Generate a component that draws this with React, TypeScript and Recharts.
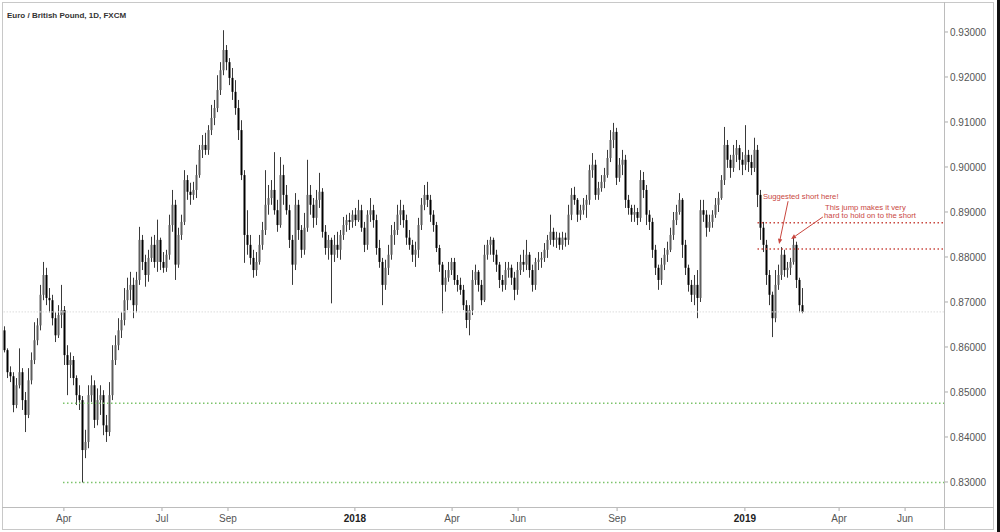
import React from 'react';
import { ComposedChart, Bar, XAxis, YAxis, ReferenceLine, ReferenceDot } from 'recharts';

// EUR/GBP candles (each candle ~2 sessions), values in pips: [open, high, low, close]
const ohlcPips: [number, number, number, number][] = [
  [8637,8646,8588,8593],[8593,8597,8531,8544],[8544,8557,8522,8535],[8535,8544,8455,8471],
  [8471,8531,8464,8515],[8515,8597,8508,8544],[8544,8553,8460,8482],[8482,8500,8411,8449],
  [8449,8553,8442,8526],[8526,8588,8517,8571],[8571,8655,8562,8615],[8615,8664,8604,8648],
  [8648,8738,8637,8716],[8716,8789,8704,8760],[8760,8776,8693,8709],[8709,8731,8677,8704],
  [8704,8716,8648,8664],[8664,8677,8611,8626],[8626,8693,8620,8671],[8671,8738,8642,8682],
  [8682,8691,8560,8582],[8582,8604,8493,8560],[8560,8588,8531,8571],[8571,8580,8515,8531],
  [8531,8537,8471,8493],[8493,8515,8460,8482],[8482,8491,8299,8371],[8371,8416,8353,8389],
  [8389,8515,8375,8493],[8493,8537,8478,8515],[8515,8526,8420,8438],[8438,8508,8426,8482],
  [8482,8515,8449,8493],[8493,8504,8404,8426],[8426,8449,8389,8411],[8411,8522,8402,8493],
  [8493,8604,8482,8571],[8571,8626,8560,8604],[8604,8664,8593,8637],[8637,8677,8620,8660],
  [8660,8731,8648,8704],[8704,8754,8682,8727],[8727,8767,8704,8738],[8738,8754,8664,8693],
  [8693,8767,8677,8749],[8749,8867,8738,8838],[8838,8849,8771,8789],[8789,8805,8734,8760],
  [8760,8816,8745,8798],[8798,8845,8789,8827],[8827,8849,8776,8789],[8789,8883,8767,8838],
  [8838,8843,8771,8789],[8789,8811,8765,8776],[8776,8816,8767,8805],[8805,8894,8794,8871],
  [8871,8949,8856,8916],[8916,8927,8749,8783],[8783,8865,8776,8849],[8849,8894,8838,8878],
  [8878,8993,8871,8971],[8971,8982,8927,8945],[8945,8965,8916,8938],[8938,8967,8927,8949],
  [8949,9005,8931,8982],[8982,9049,8976,9038],[9038,9071,9020,9049],[9049,9076,9027,9038],
  [9038,9093,9027,9082],[9082,9138,9071,9109],[9109,9149,9093,9131],[9131,9204,9122,9171],
  [9171,9233,9160,9215],[9215,9304,9204,9260],[9260,9271,9215,9233],[9233,9242,9182,9198],
  [9198,9220,9149,9167],[9167,9193,9116,9131],[9131,9149,9060,9082],[9082,9104,8971,8982],
  [8982,8993,8787,8849],[8849,8904,8805,8827],[8827,8849,8783,8798],[8798,8816,8754,8771],
  [8771,8811,8758,8789],[8789,8849,8783,8827],[8827,8878,8816,8860],[8860,8993,8849,8916],
  [8916,8960,8894,8931],[8931,8971,8916,8949],[8949,9033,8894,8904],[8904,8927,8856,8871],
  [8871,9022,8865,8982],[8982,9005,8916,8938],[8938,8960,8894,8904],[8904,8916,8820,8838],
  [8838,8849,8738,8783],[8783,8942,8771,8916],[8916,8927,8838,8860],[8860,8871,8798,8816],
  [8816,8898,8805,8865],[8865,9016,8856,8938],[8938,8960,8894,8916],[8916,8931,8865,8887],
  [8887,8949,8871,8927],[8927,8987,8909,8945],[8945,8953,8843,8856],[8856,8871,8805,8820],
  [8820,8849,8794,8838],[8838,8843,8697,8805],[8805,8849,8789,8827],[8827,8856,8798,8816],
  [8816,8860,8794,8849],[8849,8889,8838,8871],[8871,8894,8856,8882],[8882,8898,8860,8878],
  [8878,8904,8865,8894],[8894,8909,8869,8882],[8882,8927,8878,8904],[8904,8916,8856,8865],
  [8865,8878,8811,8827],[8827,8904,8816,8894],[8894,8931,8878,8904],[8904,8916,8865,8882],
  [8882,8894,8805,8820],[8820,8838,8776,8789],[8789,8798,8693,8738],[8738,8794,8727,8776],
  [8776,8827,8760,8805],[8805,8871,8794,8849],[8849,8878,8827,8860],[8860,8916,8849,8894],
  [8894,8927,8871,8904],[8904,8916,8865,8882],[8882,8894,8827,8843],[8843,8860,8816,8827],
  [8827,8838,8789,8805],[8805,8834,8778,8816],[8816,8887,8798,8871],[8871,8931,8860,8916],
  [8916,8960,8904,8938],[8938,8967,8911,8927],[8927,8938,8878,8894],[8894,8904,8856,8871],
  [8871,8878,8811,8820],[8820,8827,8767,8783],[8783,8789,8675,8738],[8738,8771,8723,8754],
  [8754,8789,8745,8771],[8771,8798,8760,8789],[8789,8798,8738,8749],[8749,8760,8723,8738],
  [8738,8754,8716,8727],[8727,8738,8682,8693],[8693,8704,8642,8660],[8660,8693,8626,8682],
  [8682,8771,8671,8749],[8749,8783,8738,8767],[8767,8771,8723,8738],[8738,8749,8693,8704],
  [8704,8827,8700,8805],[8805,8838,8794,8827],[8827,8845,8805,8838],[8838,8843,8789,8805],
  [8805,8816,8767,8783],[8783,8789,8731,8749],[8749,8760,8723,8738],[8738,8789,8727,8771],
  [8771,8789,8754,8776],[8776,8783,8738,8754],[8754,8767,8704,8727],[8727,8789,8716,8771],
  [8771,8805,8760,8789],[8789,8816,8767,8783],[8783,8838,8771,8805],[8805,8811,8754,8771],
  [8771,8783,8723,8738],[8738,8798,8727,8789],[8789,8811,8771,8794],[8794,8811,8776,8798],
  [8798,8831,8789,8816],[8816,8849,8798,8838],[8838,8894,8827,8856],[8856,8865,8823,8838],
  [8838,8856,8820,8843],[8843,8854,8816,8827],[8827,8856,8816,8843],[8843,8854,8823,8838],
  [8838,8916,8827,8894],[8894,8953,8882,8938],[8938,8956,8916,8927],[8927,8931,8878,8894],
  [8894,8916,8882,8904],[8904,8931,8894,8916],[8916,8938,8887,8927],[8927,9005,8916,8993],
  [8993,9031,8976,9005],[9005,9016,8927,8938],[8938,8967,8927,8953],[8953,8982,8945,8967],
  [8967,8998,8953,8982],[8982,9038,8976,9020],[9020,9082,9011,9060],[9060,9098,9042,9078],
  [9078,9087,8960,8976],[8976,9020,8967,9005],[9005,9038,8982,9016],[9016,9027,8909,8927],
  [8927,8938,8894,8909],[8909,8916,8878,8894],[8894,8916,8878,8900],[8900,8909,8871,8887],
  [8887,8993,8878,8971],[8971,8989,8931,8949],[8949,8960,8871,8894],[8894,8904,8860,8878],
  [8878,8887,8798,8816],[8816,8827,8760,8776],[8776,8783,8727,8749],[8749,8798,8738,8783],
  [8783,8820,8771,8805],[8805,8834,8789,8816],[8816,8865,8811,8849],[8849,8900,8838,8882],
  [8882,8916,8871,8900],[8900,8942,8894,8927],[8927,8931,8798,8827],[8827,8838,8760,8776],
  [8776,8783,8723,8738],[8738,8749,8700,8716],[8716,8760,8693,8738],[8738,8771,8664,8709],
  [8709,8927,8700,8904],[8904,8927,8878,8894],[8894,8904,8845,8865],[8865,8894,8856,8878],
  [8878,8904,8865,8894],[8894,8931,8887,8916],[8916,8945,8900,8931],[8931,8982,8927,8971],
  [8971,9089,8960,9049],[9049,9060,8998,9016],[9016,9027,8976,8998],[8998,9049,8989,9027],
  [9027,9060,9011,9042],[9042,9049,8993,9016],[9016,9033,8982,9005],[9005,9093,8993,9027],
  [9027,9038,8989,9011],[9011,9027,8982,8998],[8998,9065,8989,9038],[9038,9049,8911,8938],
  [8938,8949,8838,8865],[8865,8878,8811,8827],[8827,8838,8738,8760],[8760,8771,8693,8716],
  [8716,8723,8622,8664],[8664,8771,8655,8738],[8738,8783,8727,8760],[8760,8822,8749,8805],
  [8805,8816,8756,8771],[8771,8789,8754,8776],[8776,8798,8760,8789],[8789,8845,8783,8827],
  [8827,8834,8731,8749],[8749,8754,8677,8693],[8693,8731,8675,8678],
];

// X axis: candle index positions of the month/year labels
const tickIndex = [19.8, 52.5, 74.5, 116.8, 149.2, 171.2, 204.2, 246.8, 278.2, 300.2];
const tickLabels = ['Apr', 'Jul', 'Sep', '2018', 'Apr', 'Jun', 'Sep', '2019', 'Apr', 'Jun'];
const xDomain: [number, number] = [-0.5, 313.17];

// Y axis
const priceTicks = [0.83, 0.84, 0.85, 0.86, 0.87, 0.88, 0.89, 0.9, 0.91, 0.92, 0.93];
const yDomain: [number, number] = [0.824444, 0.936444];

// horizontal levels
const supportLevels = [0.8475, 0.8299];
const supportStart = 19.5;
const resistanceLevels = [0.8876, 0.8818];
const resistanceStart = 251;
const lastPrice = 0.8678;

const RED = '#c9473f';
const GREEN = '#7cc36b';
const FONT = "'Liberation Sans', Arial, sans-serif";

const data = ohlcPips.map(([o, h, l, c], i) => ({
  i,
  o: o / 10000,
  h: h / 10000,
  l: l / 10000,
  c: c / 10000,
  range: [l / 10000, h / 10000],
}));

const Candle = (props: any) => {
  const { x, y, width, height, payload } = props;
  if (!payload) return null;
  const { o, h, l, c } = payload;
  const top = Math.min(y, y + height);
  const ht = Math.abs(height);
  const span = h - l || 1e-9;
  const k = ht / span;
  const cx = Math.round(x + width / 2);
  const bTop = top + (h - Math.max(o, c)) * k;
  const bBot = top + (h - Math.min(o, c)) * k;
  const up = c >= o;
  return (
    <g>
      <line x1={cx + 0.5} x2={cx + 0.5} y1={top} y2={top + ht} stroke="#3a3a3a" strokeWidth={1} />
      <rect x={cx - 0.5} y={bTop} width={2} height={Math.max(1.5, bBot - bTop)} fill={up ? '#5e5e5e' : '#000'} />
    </g>
  );
};

const XTick = (props: any) => {
  const { x, y, payload } = props;
  const idx = tickIndex.indexOf(payload.value);
  const label = idx >= 0 ? tickLabels[idx] : '';
  const bold = /^\d{4}$/.test(label);
  return (
    <text x={x} y={y} dy="0.71em" textAnchor="middle" fontSize={10} fontFamily={FONT}
      fontWeight={bold ? 700 : 400} fill={bold ? '#222' : '#555'}>
      {label}
    </text>
  );
};

const Arrow = (p: any) => {
  const { x1, y1, x2, y2 } = p;
  const a = Math.atan2(y2 - y1, x2 - x1);
  const L = 5, W = 2.2;
  const bx = x2 - L * Math.cos(a), by = y2 - L * Math.sin(a);
  const pts = `${x2},${y2} ${bx + W * Math.sin(a)},${by - W * Math.cos(a)} ${bx - W * Math.sin(a)},${by + W * Math.cos(a)}`;
  return (
    <g>
      <line x1={x1} y1={y1} x2={bx} y2={by} stroke={RED} strokeWidth={1} />
      <polygon points={pts} fill={RED} />
    </g>
  );
};

const note = (text: string) => (p: any) => (
  <text x={p.cx} y={p.cy} fontSize={7.7} fontFamily={FONT} fill={RED}>{text}</text>
);

export default function App() {
  return (
    <div style={{ position: 'absolute', left: 0, top: 0, width: 1000, height: 532, background: '#fff', overflow: 'hidden' }}>
      <ComposedChart width={1000} height={532} data={data} margin={{ top: 3, right: 0, bottom: 0, left: 3 }}>
        <XAxis dataKey="i" type="number" domain={xDomain} allowDataOverflow ticks={tickIndex} interval={0}
          height={25} axisLine={false} tickSize={4} tickMargin={4} tickLine={{ stroke: '#aaa' }} tick={<XTick />} />
        <YAxis orientation="right" type="number" domain={yDomain} allowDataOverflow ticks={priceTicks} width={56}
          axisLine={false} tickSize={4} tickMargin={2} tickLine={{ stroke: '#aaa' }}
          tick={{ fontSize: 10, fill: '#555', fontFamily: FONT }} tickFormatter={(v: number) => v.toFixed(5)} />
        <ReferenceLine y={lastPrice} stroke="#dcdcdc" strokeDasharray="1.5 1.5" />
        {supportLevels.map((v) => (
          <ReferenceLine key={'s' + v} segment={[{ x: supportStart, y: v }, { x: xDomain[1], y: v }]}
            stroke={GREEN} strokeWidth={1.5} strokeDasharray="1.5 2.5" />
        ))}
        {resistanceLevels.map((v) => (
          <ReferenceLine key={'r' + v} segment={[{ x: resistanceStart, y: v }, { x: xDomain[1], y: v }]}
            stroke={RED} strokeWidth={1.5} strokeDasharray="1.5 2.5" />
        ))}
        <Bar dataKey="range" barSize={2} shape={<Candle />} isAnimationActive={false} />
        <ReferenceLine segment={[{ x: 261.2, y: 0.8924 }, { x: 258.2, y: 0.8829 }]} shape={(p: any) => <Arrow {...p} />} />
        <ReferenceLine segment={[{ x: 272.8, y: 0.8889 }, { x: 262.2, y: 0.8840 }]} shape={(p: any) => <Arrow {...p} />} />
        <ReferenceDot x={252.8} y={0.8929} r={0} shape={note('Suggested short here!')} />
        <ReferenceDot x={273.5} y={0.8904} r={0} shape={note('This jump makes it very')} />
        <ReferenceDot x={273.2} y={0.8887} r={0} shape={note('hard to hold on to the short')} />
      </ComposedChart>
      <div style={{ position: 'absolute', left: 7, top: 11, fontSize: 8, lineHeight: '10px', fontWeight: 700, fontFamily: FONT, color: '#333', whiteSpace: 'nowrap' }}>
        Euro / British Pound, 1D, FXCM
      </div>
      <div style={{ position: 'absolute', left: 2, top: 2, width: 992, height: 528, border: '1px solid #c8c8c8', boxSizing: 'border-box', pointerEvents: 'none' }} />
      <div style={{ position: 'absolute', left: 944, top: 2, width: 1, height: 528, background: '#bcbcbc' }} />
      <div style={{ position: 'absolute', left: 2, top: 507, width: 992, height: 1, background: '#bcbcbc' }} />
      <div style={{ position: 'absolute', left: 997, top: 0, width: 3, height: 532, background: '#111' }} />
    </div>
  );
}
